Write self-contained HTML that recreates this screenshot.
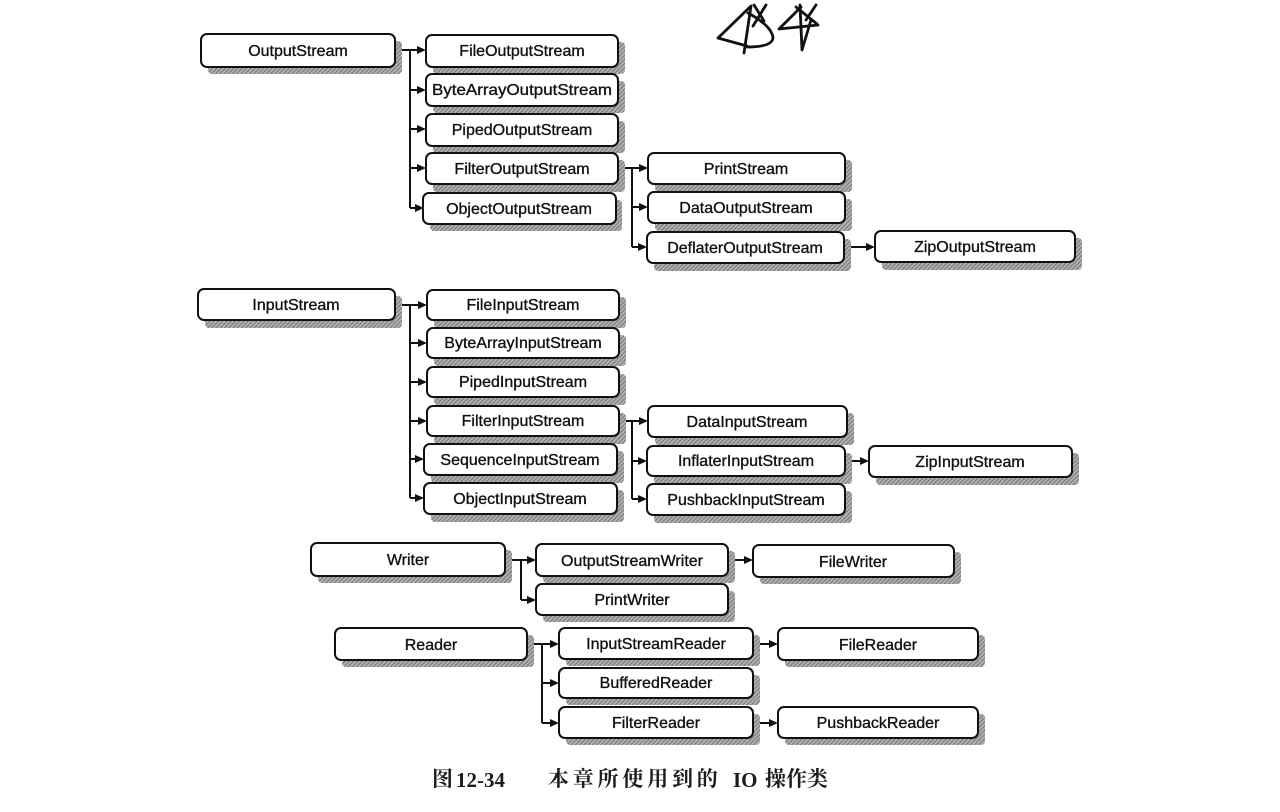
<!DOCTYPE html>
<html>
<head>
<meta charset="utf-8">
<style>
  html,body{margin:0;padding:0;background:#fff;}
  body{width:1280px;height:812px;position:relative;overflow:hidden;}
  svg{position:absolute;left:0;top:0;}
  .cap{position:absolute;font-family:"Liberation Serif","Noto Serif CJK SC",serif;color:#1c1c1c;font-weight:bold;white-space:nowrap;line-height:1;}
</style>
</head>
<body>
<svg width="1280" height="812" viewBox="0 0 1280 812" xmlns="http://www.w3.org/2000/svg">
  <defs>
    <pattern id="hatch" width="3" height="3" patternUnits="userSpaceOnUse" patternTransform="rotate(45)">
      <rect width="3" height="3" fill="#b4b4b4"/>
      <rect width="1.2" height="3" fill="#7a7a7a"/>
    </pattern>
    <g id="arrow"><polygon points="-9,-4 0,0 -9,4" fill="#111"/></g>
  </defs>

  <!-- handwriting scribble -->
  <g fill="none" stroke="#111" stroke-width="2.8" stroke-linecap="round" stroke-linejoin="round">
    <path d="M750,7 L718,38 L747,46"/>
    <path d="M751,6 L744,53"/>
    <path d="M748,13 Q772,26 773,38 Q772,47 747,47"/>
    <path d="M754,5 L764,21 M766,5 L753,26"/>
    <path d="M801,7 L779,29 L818,25"/>
    <path d="M800,5 L802,50 L811,20"/>
    <path d="M796,7 L817,24 M816,5 L806,20"/>
  </g>

  <!-- connectors -->
  <g stroke="#111" stroke-width="2" fill="none">
    <path d="M395,50 H418 M410,50 V208 M410,90 H418 M410,129 H418 M410,168 H418 M410,208 H418"/>
    <path d="M618,168 H640 M632,168 V247 M632,207 H640 M632,247 H640"/>
    <path d="M843,247 H867"/>
    <path d="M395,305 H419 M410,305 V498 M410,343 H419 M410,382 H419 M410,421 H419 M410,459 H419 M410,498 H419"/>
    <path d="M619,421 H640 M632,421 V499 M632,461 H640 M632,499 H640"/>
    <path d="M845,461 H861"/>
    <path d="M505,560 H528 M521,560 V600 M521,600 H528"/>
    <path d="M728,560 H745"/>
    <path d="M527,644 H551 M542,644 V723 M542,683 H551 M542,723 H551"/>
    <path d="M753,644 H770 M753,723 H770"/>
  </g>
  <g>
    <use href="#arrow" x="426" y="50"/><use href="#arrow" x="426" y="90"/><use href="#arrow" x="426" y="129"/><use href="#arrow" x="426" y="168"/><use href="#arrow" x="424" y="208"/>
    <use href="#arrow" x="648" y="168"/><use href="#arrow" x="648" y="207"/><use href="#arrow" x="647" y="247"/>
    <use href="#arrow" x="875" y="247"/>
    <use href="#arrow" x="427" y="305"/><use href="#arrow" x="427" y="343"/><use href="#arrow" x="427" y="382"/><use href="#arrow" x="427" y="421"/><use href="#arrow" x="424" y="459"/><use href="#arrow" x="424" y="498"/>
    <use href="#arrow" x="648" y="421"/><use href="#arrow" x="647" y="461"/><use href="#arrow" x="647" y="499"/>
    <use href="#arrow" x="869" y="461"/>
    <use href="#arrow" x="536" y="560"/><use href="#arrow" x="536" y="600"/>
    <use href="#arrow" x="753" y="560"/>
    <use href="#arrow" x="559" y="644"/><use href="#arrow" x="559" y="683"/><use href="#arrow" x="559" y="723"/>
    <use href="#arrow" x="778" y="644"/><use href="#arrow" x="778" y="723"/>
  </g>

  <!-- shadows -->
  <g fill="url(#hatch)">
    <rect x="208" y="41" width="194" height="33" rx="4"/>
    <rect x="433" y="42" width="192" height="32" rx="4"/>
    <rect x="433" y="81" width="192" height="32" rx="4"/>
    <rect x="433" y="121" width="192" height="32" rx="4"/>
    <rect x="433" y="160" width="192" height="32" rx="4"/>
    <rect x="430" y="200" width="192" height="31" rx="4"/>
    <rect x="655" y="160" width="197" height="32" rx="4"/>
    <rect x="655" y="199" width="197" height="32" rx="4"/>
    <rect x="654" y="239" width="197" height="32" rx="4"/>
    <rect x="882" y="238" width="200" height="32" rx="4"/>

    <rect x="205" y="296" width="197" height="32" rx="4"/>
    <rect x="434" y="297" width="192" height="31" rx="4"/>
    <rect x="434" y="335" width="192" height="31" rx="4"/>
    <rect x="434" y="374" width="192" height="31" rx="4"/>
    <rect x="434" y="413" width="192" height="31" rx="4"/>
    <rect x="431" y="451" width="193" height="32" rx="4"/>
    <rect x="431" y="490" width="193" height="32" rx="4"/>
    <rect x="655" y="413" width="199" height="32" rx="4"/>
    <rect x="654" y="453" width="198" height="31" rx="4"/>
    <rect x="654" y="491" width="198" height="32" rx="4"/>
    <rect x="876" y="453" width="203" height="32" rx="4"/>

    <rect x="318" y="550" width="194" height="33" rx="4"/>
    <rect x="543" y="551" width="192" height="32" rx="4"/>
    <rect x="543" y="591" width="192" height="31" rx="4"/>
    <rect x="760" y="552" width="201" height="32" rx="4"/>
    <rect x="342" y="635" width="192" height="32" rx="4"/>
    <rect x="566" y="635" width="194" height="31" rx="4"/>
    <rect x="566" y="675" width="194" height="30" rx="4"/>
    <rect x="566" y="714" width="194" height="31" rx="4"/>
    <rect x="785" y="635" width="200" height="32" rx="4"/>
    <rect x="785" y="714" width="200" height="31" rx="4"/>
  </g>

  <!-- boxes -->
  <g fill="#fff" stroke="#111" stroke-width="2">
    <rect x="201" y="34" width="194" height="33" rx="6"/>
    <rect x="426" y="35" width="192" height="32" rx="6"/>
    <rect x="426" y="74" width="192" height="32" rx="6"/>
    <rect x="426" y="114" width="192" height="32" rx="6"/>
    <rect x="426" y="153" width="192" height="31" rx="6"/>
    <rect x="423" y="193" width="193" height="31" rx="6"/>
    <rect x="648" y="153" width="197" height="31" rx="6"/>
    <rect x="648" y="192" width="197" height="31" rx="6"/>
    <rect x="647" y="232" width="197" height="31" rx="6"/>
    <rect x="875" y="231" width="200" height="31" rx="6"/>

    <rect x="198" y="289" width="197" height="31" rx="6"/>
    <rect x="427" y="290" width="192" height="30" rx="6"/>
    <rect x="427" y="328" width="192" height="30" rx="6"/>
    <rect x="427" y="367" width="192" height="30" rx="6"/>
    <rect x="427" y="406" width="192" height="30" rx="6"/>
    <rect x="424" y="444" width="193" height="31" rx="6"/>
    <rect x="424" y="483" width="193" height="31" rx="6"/>
    <rect x="648" y="406" width="199" height="31" rx="6"/>
    <rect x="647" y="446" width="198" height="30" rx="6"/>
    <rect x="647" y="484" width="198" height="31" rx="6"/>
    <rect x="869" y="446" width="203" height="31" rx="6"/>

    <rect x="311" y="543" width="194" height="33" rx="6"/>
    <rect x="536" y="544" width="192" height="32" rx="6"/>
    <rect x="536" y="584" width="192" height="31" rx="6"/>
    <rect x="753" y="545" width="201" height="32" rx="6"/>
    <rect x="335" y="628" width="192" height="32" rx="6"/>
    <rect x="559" y="628" width="194" height="31" rx="6"/>
    <rect x="559" y="668" width="194" height="30" rx="6"/>
    <rect x="559" y="707" width="194" height="31" rx="6"/>
    <rect x="778" y="628" width="200" height="32" rx="6"/>
    <rect x="778" y="707" width="200" height="31" rx="6"/>
  </g>

  <!-- labels -->
  <g font-family="'Liberation Sans', Arial, sans-serif" font-size="16" fill="#111" stroke="#111" stroke-width="0.35" text-anchor="middle">
    <text x="298" y="56">OutputStream</text>
    <text x="522" y="56">FileOutputStream</text>
    <text x="522" y="95" textLength="180" lengthAdjust="spacingAndGlyphs">ByteArrayOutputStream</text>
    <text x="522" y="135">PipedOutputStream</text>
    <text x="522" y="174">FilterOutputStream</text>
    <text x="519" y="214">ObjectOutputStream</text>
    <text x="746" y="174">PrintStream</text>
    <text x="746" y="213">DataOutputStream</text>
    <text x="745" y="253">DeflaterOutputStream</text>
    <text x="975" y="252">ZipOutputStream</text>

    <text x="296" y="310">InputStream</text>
    <text x="523" y="310">FileInputStream</text>
    <text x="523" y="348">ByteArrayInputStream</text>
    <text x="523" y="387">PipedInputStream</text>
    <text x="523" y="426">FilterInputStream</text>
    <text x="520" y="465">SequenceInputStream</text>
    <text x="520" y="504">ObjectInputStream</text>
    <text x="747" y="427">DataInputStream</text>
    <text x="746" y="466">InflaterInputStream</text>
    <text x="746" y="505">PushbackInputStream</text>
    <text x="970" y="467">ZipInputStream</text>

    <text x="408" y="565">Writer</text>
    <text x="632" y="566">OutputStreamWriter</text>
    <text x="632" y="605">PrintWriter</text>
    <text x="853" y="567">FileWriter</text>
    <text x="431" y="650">Reader</text>
    <text x="656" y="649">InputStreamReader</text>
    <text x="656" y="688">BufferedReader</text>
    <text x="656" y="728">FilterReader</text>
    <text x="878" y="650">FileReader</text>
    <text x="878" y="728">PushbackReader</text>
  </g>
</svg>

<div class="cap" style="left:432px;top:769px;font-size:21px;">图</div>
<div class="cap" style="left:456px;top:770px;font-size:21px;">12-34</div>
<div class="cap" style="left:548px;top:769px;font-size:21px;letter-spacing:3.8px;">本章所使用到的</div>
<div class="cap" style="left:733px;top:770px;font-size:21px;">IO</div>
<div class="cap" style="left:765px;top:769px;font-size:21px;">操作类</div>
</body>
</html>
